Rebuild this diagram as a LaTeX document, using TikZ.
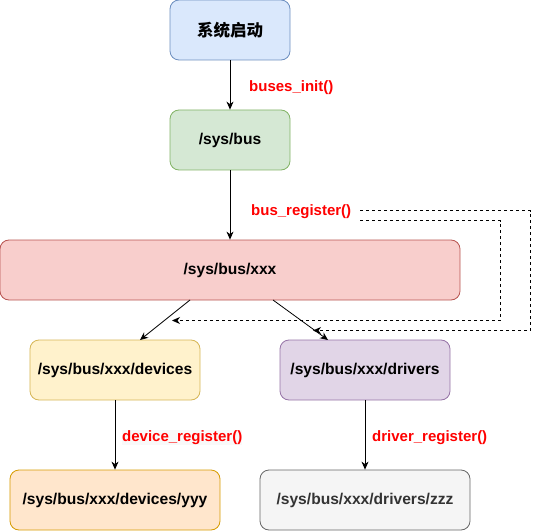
\documentclass[tikz,border=0pt]{standalone}
\usepackage{fontspec}
\setmainfont{Liberation Sans}
\newfontfamily\cjk{Noto Sans CJK SC}
\usetikzlibrary{arrows.meta}
\definecolor{bluef}{HTML}{DAE8FC}\definecolor{blued}{HTML}{6C8EBF}
\definecolor{greenf}{HTML}{D5E8D4}\definecolor{greend}{HTML}{82B366}
\definecolor{redf}{HTML}{F8CECC}\definecolor{redd}{HTML}{B85450}
\definecolor{yellowf}{HTML}{FFF2CC}\definecolor{yellowd}{HTML}{D6B656}
\definecolor{purplef}{HTML}{E1D5E7}\definecolor{purpled}{HTML}{9673A6}
\definecolor{orangef}{HTML}{FFE6CC}\definecolor{oranged}{HTML}{D79B00}
\definecolor{greyf}{HTML}{F5F5F5}\definecolor{greyd}{HTML}{666666}
\definecolor{txt}{HTML}{333333}
\tikzset{
  box/.style={draw, rounded corners=9bp, line width=0.8bp, minimum height=60bp, inner sep=0pt,
    font=\fontsize{15.6bp}{18bp}\selectfont\bfseries, text=black, anchor=center},
  lbl/.style={anchor=west, inner sep=0pt, text=red, font=\fontsize{15bp}{17bp}\selectfont\bfseries},
  arr/.style={draw, line width=0.8bp, -{Stealth[length=8bp,width=7bp,inset=2.5bp]}},
  darr/.style={draw, line width=0.8bp, dash pattern=on 3bp off 3bp, -{Stealth[length=8bp,width=7bp,inset=2.5bp]}}
}
\begin{document}
\begin{tikzpicture}[x=1bp,y=-1bp]
\useasboundingbox (0,0) rectangle (539,531);
\node[box, fill=bluef, draw=blued, minimum width=120bp] (start) at (230,30) {\fontsize{16.5bp}{18bp}\cjk\bfseries 系统启动};
\node[box, fill=greenf, draw=greend, minimum width=120bp] (bus) at (230,140) {/sys/bus};
\node[box, fill=redf, draw=redd, minimum width=460bp] (xxx) at (230,270) {/sys/bus/xxx};
\node[box, fill=yellowf, draw=yellowd, minimum width=170bp] (dev) at (115,370) {/sys/bus/xxx/devices};
\node[box, fill=purplef, draw=purpled, minimum width=170bp] (drv) at (365,370) {/sys/bus/xxx/drivers};
\node[box, fill=orangef, draw=oranged, minimum width=210bp] (yyy) at (115,500) {/sys/bus/xxx/devices/yyy};
\node[box, fill=greyf, draw=greyd, minimum width=210bp, text=txt] (zzz) at (365,500) {/sys/bus/xxx/drivers/zzz};

\node[lbl] (l1) at (249,87.5) {buses\_init()};
\node[lbl] (l2) at (251,211.5) {bus\_register()};
\node[lbl, fill=gray!5] (l3) at (122,437.5) {device\_register()};
\node[lbl] (l4) at (372,437.5) {driver\_register()};

\draw[arr] (start) -- (bus);
\draw[arr] (bus) -- (xxx);
\draw[arr] (dev) -- (yyy);
\draw[arr] (drv) -- (zzz);
\draw[arr] (190,300) -- (140,340);
\draw[arr] (273,300) -- (328,340);

\coordinate (d1s) at (360,210.5);
\coordinate (d1e) at (313,330.5);
\coordinate (d2s) at (360,220.5);
\coordinate (d2e) at (172,320.5);
\draw[darr] (d1s) -- (530.5,210.5) -- (530.5,330.5) -- (d1e);
\draw[darr] (d2s) -- (500.5,220.5) -- (500.5,320.5) -- (d2e);
\end{tikzpicture}
\end{document}
